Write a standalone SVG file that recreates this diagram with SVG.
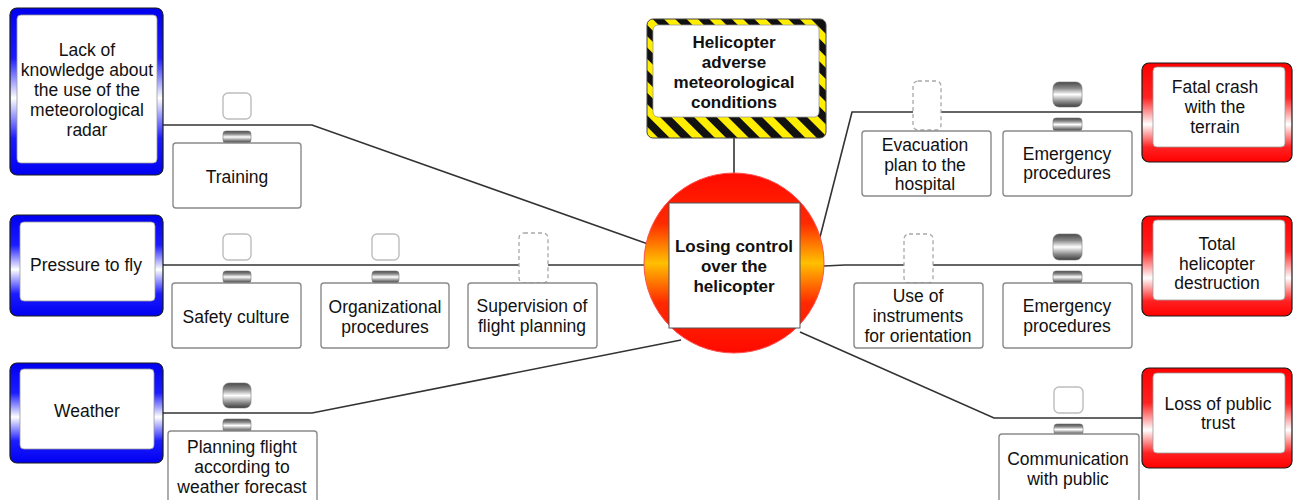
<svg xmlns="http://www.w3.org/2000/svg" width="1293" height="500" viewBox="0 0 1293 500">
  <defs>
    <linearGradient id="gBlue" x1="0" y1="0" x2="0" y2="1">
      <stop offset="0" stop-color="#0000f0"/>
      <stop offset="0.3" stop-color="#1c1cff"/>
      <stop offset="0.54" stop-color="#ffffff"/>
      <stop offset="0.78" stop-color="#1c1cff"/>
      <stop offset="1" stop-color="#0000f0"/>
    </linearGradient>
    <linearGradient id="gRed" x1="0" y1="0" x2="0" y2="1">
      <stop offset="0" stop-color="#ff0000"/>
      <stop offset="0.35" stop-color="#ff2222"/>
      <stop offset="0.62" stop-color="#ffffff"/>
      <stop offset="0.85" stop-color="#ff2222"/>
      <stop offset="1" stop-color="#ff0000"/>
    </linearGradient>
    <linearGradient id="gCore" x1="0" y1="0" x2="0" y2="1">
      <stop offset="0" stop-color="#ff0a00"/>
      <stop offset="0.28" stop-color="#ff2a00"/>
      <stop offset="0.5" stop-color="#ffc000"/>
      <stop offset="0.72" stop-color="#ff2a00"/>
      <stop offset="1" stop-color="#ff0a00"/>
    </linearGradient>
    <linearGradient id="gMetal" x1="0" y1="0" x2="0" y2="1">
      <stop offset="0" stop-color="#4a4a4a"/>
      <stop offset="0.25" stop-color="#8a8a8a"/>
      <stop offset="0.5" stop-color="#ffffff"/>
      <stop offset="0.78" stop-color="#8a8a8a"/>
      <stop offset="1" stop-color="#3e3e3e"/>
    </linearGradient>
    <pattern id="stripes" width="16" height="16" patternUnits="userSpaceOnUse" patternTransform="rotate(-45)">
      <rect width="16" height="16" fill="#ffee00"/>
      <rect width="8" height="16" fill="#111"/>
    </pattern>
    <style>
      .t { font-family: "Liberation Sans", Arial, sans-serif; font-size: 17.5px; fill: #111; text-anchor: middle; }
      .b { font-family: "Liberation Sans", Arial, sans-serif; font-size: 17px; font-weight: bold; fill: #111; text-anchor: middle; }
      .conn { fill: none; stroke: #333; stroke-width: 1.6; }
      .outer { stroke: #1a1a1a; stroke-width: 1.2; }
      .inner { fill: #fff; stroke: #999; stroke-width: 0.8; }
      .barrier { fill: #fff; stroke: #8a8a8a; stroke-width: 1.4; }
      .empty { fill: #fff; stroke: #bdbdbd; stroke-width: 1.4; }
      .dashed { fill: #fff; stroke: #a8a8a8; stroke-width: 1.3; stroke-dasharray: 4 3; }
      .metal { fill: url(#gMetal); stroke: #777; stroke-width: 0.6; }
    </style>
  </defs>

  <!-- connectors -->
  <g id="connectors">
    <line class="conn" x1="734" y1="138" x2="734" y2="173"/>
    <polyline class="conn" points="163,125 312,125 648,244"/>
    <polyline class="conn" points="163,265 644,265"/>
    <polyline class="conn" points="163,413 312,413 681,340"/>
    <polyline class="conn" points="820,237 852,112 1142,112"/>
    <polyline class="conn" points="824,266 845,265 1142,265"/>
    <polyline class="conn" points="800,332 994,418 1142,418"/>
  </g>

  <!-- hazard -->
  <g id="hazard">
    <rect x="647" y="19" width="179" height="119" rx="6" fill="url(#stripes)" stroke="#444" stroke-width="1"/>
    <rect x="653" y="25" width="166" height="92" rx="5" fill="#fff" stroke="#999" stroke-width="0.8"/>
    <text class="b" x="734" y="48">Helicopter</text>
    <text class="b" x="734" y="68">adverse</text>
    <text class="b" x="734" y="88">meteorological</text>
    <text class="b" x="734" y="108">conditions</text>
  </g>

  <!-- top event -->
  <g id="top-event">
    <circle cx="734" cy="263" r="90" fill="url(#gCore)" stroke="#ff5050" stroke-width="1"/>
    <rect x="669" y="203" width="131" height="125" fill="#fff" stroke="#555" stroke-width="1"/>
    <text class="b" x="734" y="252">Losing control</text>
    <text class="b" x="734" y="272">over the</text>
    <text class="b" x="734" y="292">helicopter</text>
  </g>

  <!-- threats -->
  <g id="threat-radar">
    <rect class="outer" x="10" y="8" width="153" height="167" rx="7" fill="url(#gBlue)"/>
    <rect class="inner" x="17" y="15" width="140" height="148" rx="4"/>
    <text class="t" x="87" y="56">Lack of</text>
    <text class="t" x="87" y="76">knowledge about</text>
    <text class="t" x="87" y="96">the use of the</text>
    <text class="t" x="87" y="116">meteorological</text>
    <text class="t" x="87" y="136">radar</text>
  </g>
  <g id="threat-pressure">
    <rect class="outer" x="10" y="215" width="153" height="101" rx="7" fill="url(#gBlue)"/>
    <rect class="inner" x="20" y="222" width="135" height="79" rx="4"/>
    <text class="t" x="86" y="271">Pressure to fly</text>
  </g>
  <g id="threat-weather">
    <rect class="outer" x="10" y="363" width="153" height="100" rx="7" fill="url(#gBlue)"/>
    <rect class="inner" x="20" y="369" width="134" height="80" rx="4"/>
    <text class="t" x="87" y="417">Weather</text>
  </g>

  <!-- consequences -->
  <g id="consequence-crash">
    <rect class="outer" x="1142" y="63" width="150" height="99" rx="7" fill="url(#gRed)"/>
    <rect class="inner" x="1153" y="67" width="132" height="80" rx="4"/>
    <text class="t" x="1215" y="93">Fatal crash</text>
    <text class="t" x="1215" y="113">with the</text>
    <text class="t" x="1215" y="133">terrain</text>
  </g>
  <g id="consequence-destruction">
    <rect class="outer" x="1142" y="216" width="150" height="100" rx="7" fill="url(#gRed)"/>
    <rect class="inner" x="1153" y="220" width="132" height="80" rx="4"/>
    <text class="t" x="1217" y="250">Total</text>
    <text class="t" x="1217" y="270">helicopter</text>
    <text class="t" x="1217" y="289">destruction</text>
  </g>
  <g id="consequence-trust">
    <rect class="outer" x="1142" y="368" width="150" height="100" rx="7" fill="url(#gRed)"/>
    <rect class="inner" x="1153" y="373" width="132" height="80" rx="4"/>
    <text class="t" x="1218" y="410">Loss of public</text>
    <text class="t" x="1218" y="429">trust</text>
  </g>

  <!-- barriers, threat side -->
  <g id="barrier-training">
    <rect class="empty" x="223" y="93" width="28" height="26" rx="5"/>
    <rect class="metal" x="223" y="131" width="28" height="12" rx="3"/>
    <rect class="barrier" x="173" y="143" width="128" height="65" rx="3"/>
    <text class="t" x="237" y="183">Training</text>
  </g>
  <g id="barrier-safety-culture">
    <rect class="empty" x="223" y="234" width="28" height="26" rx="5"/>
    <rect class="metal" x="223" y="271" width="28" height="12" rx="3"/>
    <rect class="barrier" x="172" y="283" width="129" height="65" rx="3"/>
    <text class="t" x="236" y="323">Safety culture</text>
  </g>
  <g id="barrier-org-procedures">
    <rect class="empty" x="372" y="234" width="27" height="26" rx="5"/>
    <rect class="metal" x="372" y="271" width="27" height="12" rx="3"/>
    <rect class="barrier" x="321" y="283" width="128" height="65" rx="3"/>
    <text class="t" x="385" y="313">Organizational</text>
    <text class="t" x="385" y="333">procedures</text>
  </g>
  <g id="barrier-supervision">
    <rect class="dashed" x="519" y="233" width="29" height="50" rx="5"/>
    <rect class="barrier" x="468" y="283" width="129" height="65" rx="3"/>
    <text class="t" x="532" y="312">Supervision of</text>
    <text class="t" x="532" y="332">flight planning</text>
  </g>
  <g id="barrier-planning">
    <rect class="metal" x="223" y="383" width="28" height="25" rx="6"/>
    <rect class="metal" x="223" y="419" width="28" height="13" rx="3"/>
    <rect class="barrier" x="168" y="431" width="149" height="75" rx="3"/>
    <text class="t" x="242" y="453">Planning flight</text>
    <text class="t" x="242" y="473">according to</text>
    <text class="t" x="242" y="493">weather forecast</text>
  </g>

  <!-- barriers, consequence side -->
  <g id="barrier-evacuation">
    <rect class="dashed" x="913" y="81" width="28" height="49" rx="5"/>
    <rect class="barrier" x="862" y="131" width="129" height="65" rx="3"/>
    <text class="t" x="925" y="151">Evacuation</text>
    <text class="t" x="925" y="171">plan to the</text>
    <text class="t" x="925" y="190">hospital</text>
  </g>
  <g id="barrier-emergency-1">
    <rect class="metal" x="1053" y="82" width="29" height="25" rx="6"/>
    <rect class="metal" x="1053" y="118" width="29" height="13" rx="3"/>
    <rect class="barrier" x="1003" y="131" width="129" height="65" rx="3"/>
    <text class="t" x="1067" y="160">Emergency</text>
    <text class="t" x="1067" y="179">procedures</text>
  </g>
  <g id="barrier-instruments">
    <rect class="dashed" x="904" y="234" width="29" height="49" rx="5"/>
    <rect class="barrier" x="854" y="283" width="129" height="65" rx="3"/>
    <text class="t" x="918" y="302">Use of</text>
    <text class="t" x="918" y="322">instruments</text>
    <text class="t" x="918" y="342">for orientation</text>
  </g>
  <g id="barrier-emergency-2">
    <rect class="metal" x="1053" y="234" width="29" height="26" rx="6"/>
    <rect class="metal" x="1053" y="271" width="29" height="12" rx="3"/>
    <rect class="barrier" x="1003" y="283" width="129" height="65" rx="3"/>
    <text class="t" x="1067" y="312">Emergency</text>
    <text class="t" x="1067" y="332">procedures</text>
  </g>
  <g id="barrier-communication">
    <rect class="empty" x="1054" y="387" width="29" height="26" rx="5"/>
    <rect class="metal" x="1054" y="424" width="29" height="11" rx="3"/>
    <rect class="barrier" x="999" y="434" width="140" height="72" rx="3"/>
    <text class="t" x="1068" y="465">Communication</text>
    <text class="t" x="1068" y="485">with public</text>
  </g>
</svg>
